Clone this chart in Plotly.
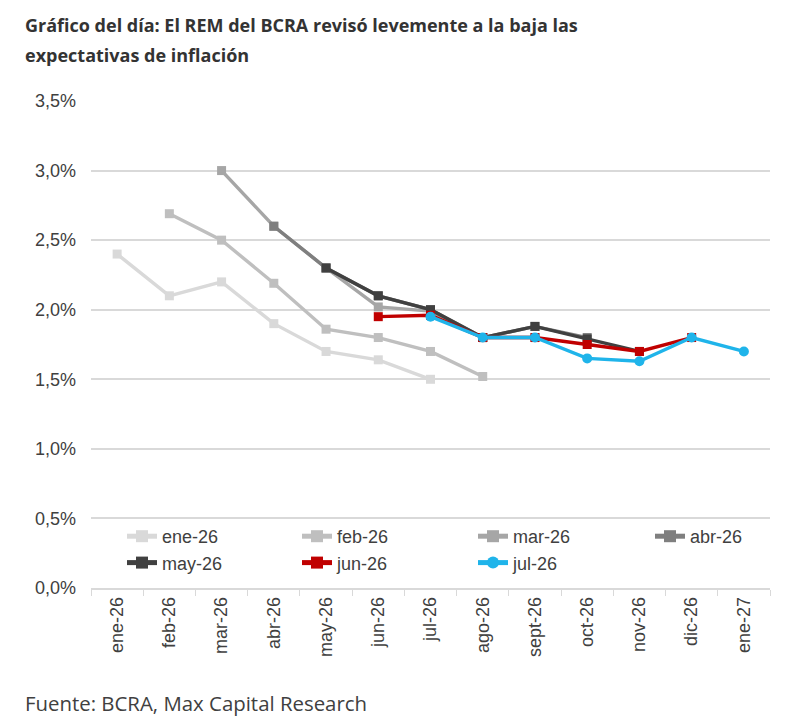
import plotly.graph_objects as go

categories = ["ene-26", "feb-26", "mar-26", "abr-26", "may-26", "jun-26", "jul-26",
              "ago-26", "sept-26", "oct-26", "nov-26", "dic-26", "ene-27"]

N = None
ene_26 = [2.40, 2.10, 2.20, 1.90, 1.70, 1.64, 1.50, N, N, N, N, N, N]
feb_26 = [N, 2.69, 2.50, 2.19, 1.86, 1.80, 1.70, 1.52, N, N, N, N, N]
mar_26 = [N, N, 3.00, 2.60, 2.30, 2.02, 1.99, 1.80, 1.80, N, N, N, N]
abr_26 = [N, N, N, 2.60, 2.30, 2.10, 2.00, 1.80, 1.88, 1.80, N, N, N]
may_26 = [N, N, N, N, 2.30, 2.10, 2.00, 1.80, 1.88, 1.79, 1.70, N, N]
jun_26 = [N, N, N, N, N, 1.95, 1.96, 1.80, 1.80, 1.75, 1.70, 1.80, N]
jul_26 = [N, N, N, N, N, N, 1.95, 1.80, 1.80, 1.65, 1.63, 1.80, 1.70]

series_names = ["ene-26", "feb-26", "mar-26", "abr-26", "may-26", "jun-26", "jul-26"]
series_values = [ene_26, feb_26, mar_26, abr_26, may_26, jun_26, jul_26]
colors = ["#d9d9d9", "#bfbfbf", "#a6a6a6", "#7f7f7f", "#404040", "#c00000", "#1fb4ea"]
symbols = ["square", "square", "square", "square", "square", "square", "circle"]
# legend column for each series (4 columns, 2 rows as in the reference)
legend_ids = ["legend", "legend2", "legend3", "legend4", "legend", "legend2", "legend3"]

y_ticks = [0, 0.5, 1.0, 1.5, 2.0, 2.5, 3.0, 3.5]
y_ticktext = ["0,0%", "0,5%", "1,0%", "1,5%", "2,0%", "2,5%", "3,0%", "3,5%"]

# plot area in screen pixels (page has 8px body margin)
PL, PR, PT, PB = 91, 770, 101, 588
PW, PH = PR - PL, PB - PT

fig = go.Figure()
for name, vals, col, sym, lg in zip(series_names, series_values, colors, symbols, legend_ids):
    fig.add_trace(go.Scatter(
        x=categories, y=vals, name=name, mode="lines+markers",
        line=dict(color=col, width=3.4),
        marker=dict(color=col, symbol=sym, size=10 if sym == "circle" else 9),
        connectgaps=False, legend=lg,
    ))

legend_font = dict(family="Liberation Sans, Arial, sans-serif", size=18, color="#404040")
def leg(xpix):
    return dict(orientation="v", x=(xpix - PL) / PW, y=(PB - 518) / PH,
                xanchor="left", yanchor="top", font=legend_font,
                bgcolor="rgba(255,255,255,0)", itemsizing="constant",
                tracegroupgap=0)

def px_x(p):
    return (p - PL) / PW

def px_y(p):
    return (PB - p) / PH

fig.update_layout(
    width=800, height=724,
    paper_bgcolor="white", plot_bgcolor="white",
    margin=dict(l=PL - 8, r=800 - PR + 8, t=PT - 8, b=724 - PB + 8),
    font=dict(family="Liberation Sans, Arial, sans-serif", color="#595959"),
    showlegend=True,
    legend=leg(122), legend2=leg(297), legend3=leg(473), legend4=leg(650),
    annotations=[
        dict(text="<b>Gráfico del día: El REM del BCRA revisó levemente a la baja las</b>",
             xref="paper", yref="paper", x=px_x(23), y=px_y(25),
             xanchor="left", yanchor="middle", showarrow=False,
             font=dict(family="Open Sans, sans-serif", size=18, color="#333333")),
        dict(text="<b>expectativas de inflación</b>",
             xref="paper", yref="paper", x=px_x(23), y=px_y(55),
             xanchor="left", yanchor="middle", showarrow=False,
             font=dict(family="Open Sans, sans-serif", size=18, color="#333333")),
        dict(text="Fuente: BCRA, Max Capital Research",
             xref="paper", yref="paper", x=px_x(23), y=px_y(703),
             xanchor="left", yanchor="middle", showarrow=False,
             font=dict(family="Open Sans, sans-serif", size=20.4, color="#404040")),
    ],
)

fig.update_xaxes(
    type="category", categoryorder="array", categoryarray=categories,
    tickangle=-90, tickfont=dict(size=18, color="#404040"),
    showline=True, linecolor="#d9d9d9", linewidth=1.5,
    ticks="outside", tickson="boundaries", ticklen=6, tickcolor="#d9d9d9",
    showgrid=False, range=[-0.5, len(categories) - 0.5],
)
fig.update_yaxes(
    range=[0, 3.5], tickvals=y_ticks, ticktext=y_ticktext,
    tickfont=dict(size=18, color="#404040"),
    showgrid=True, gridcolor="#d9d9d9", gridwidth=1.5,
    zeroline=False, showline=False, ticklabelstandoff=14,
)

fig.write_html("out.html")
